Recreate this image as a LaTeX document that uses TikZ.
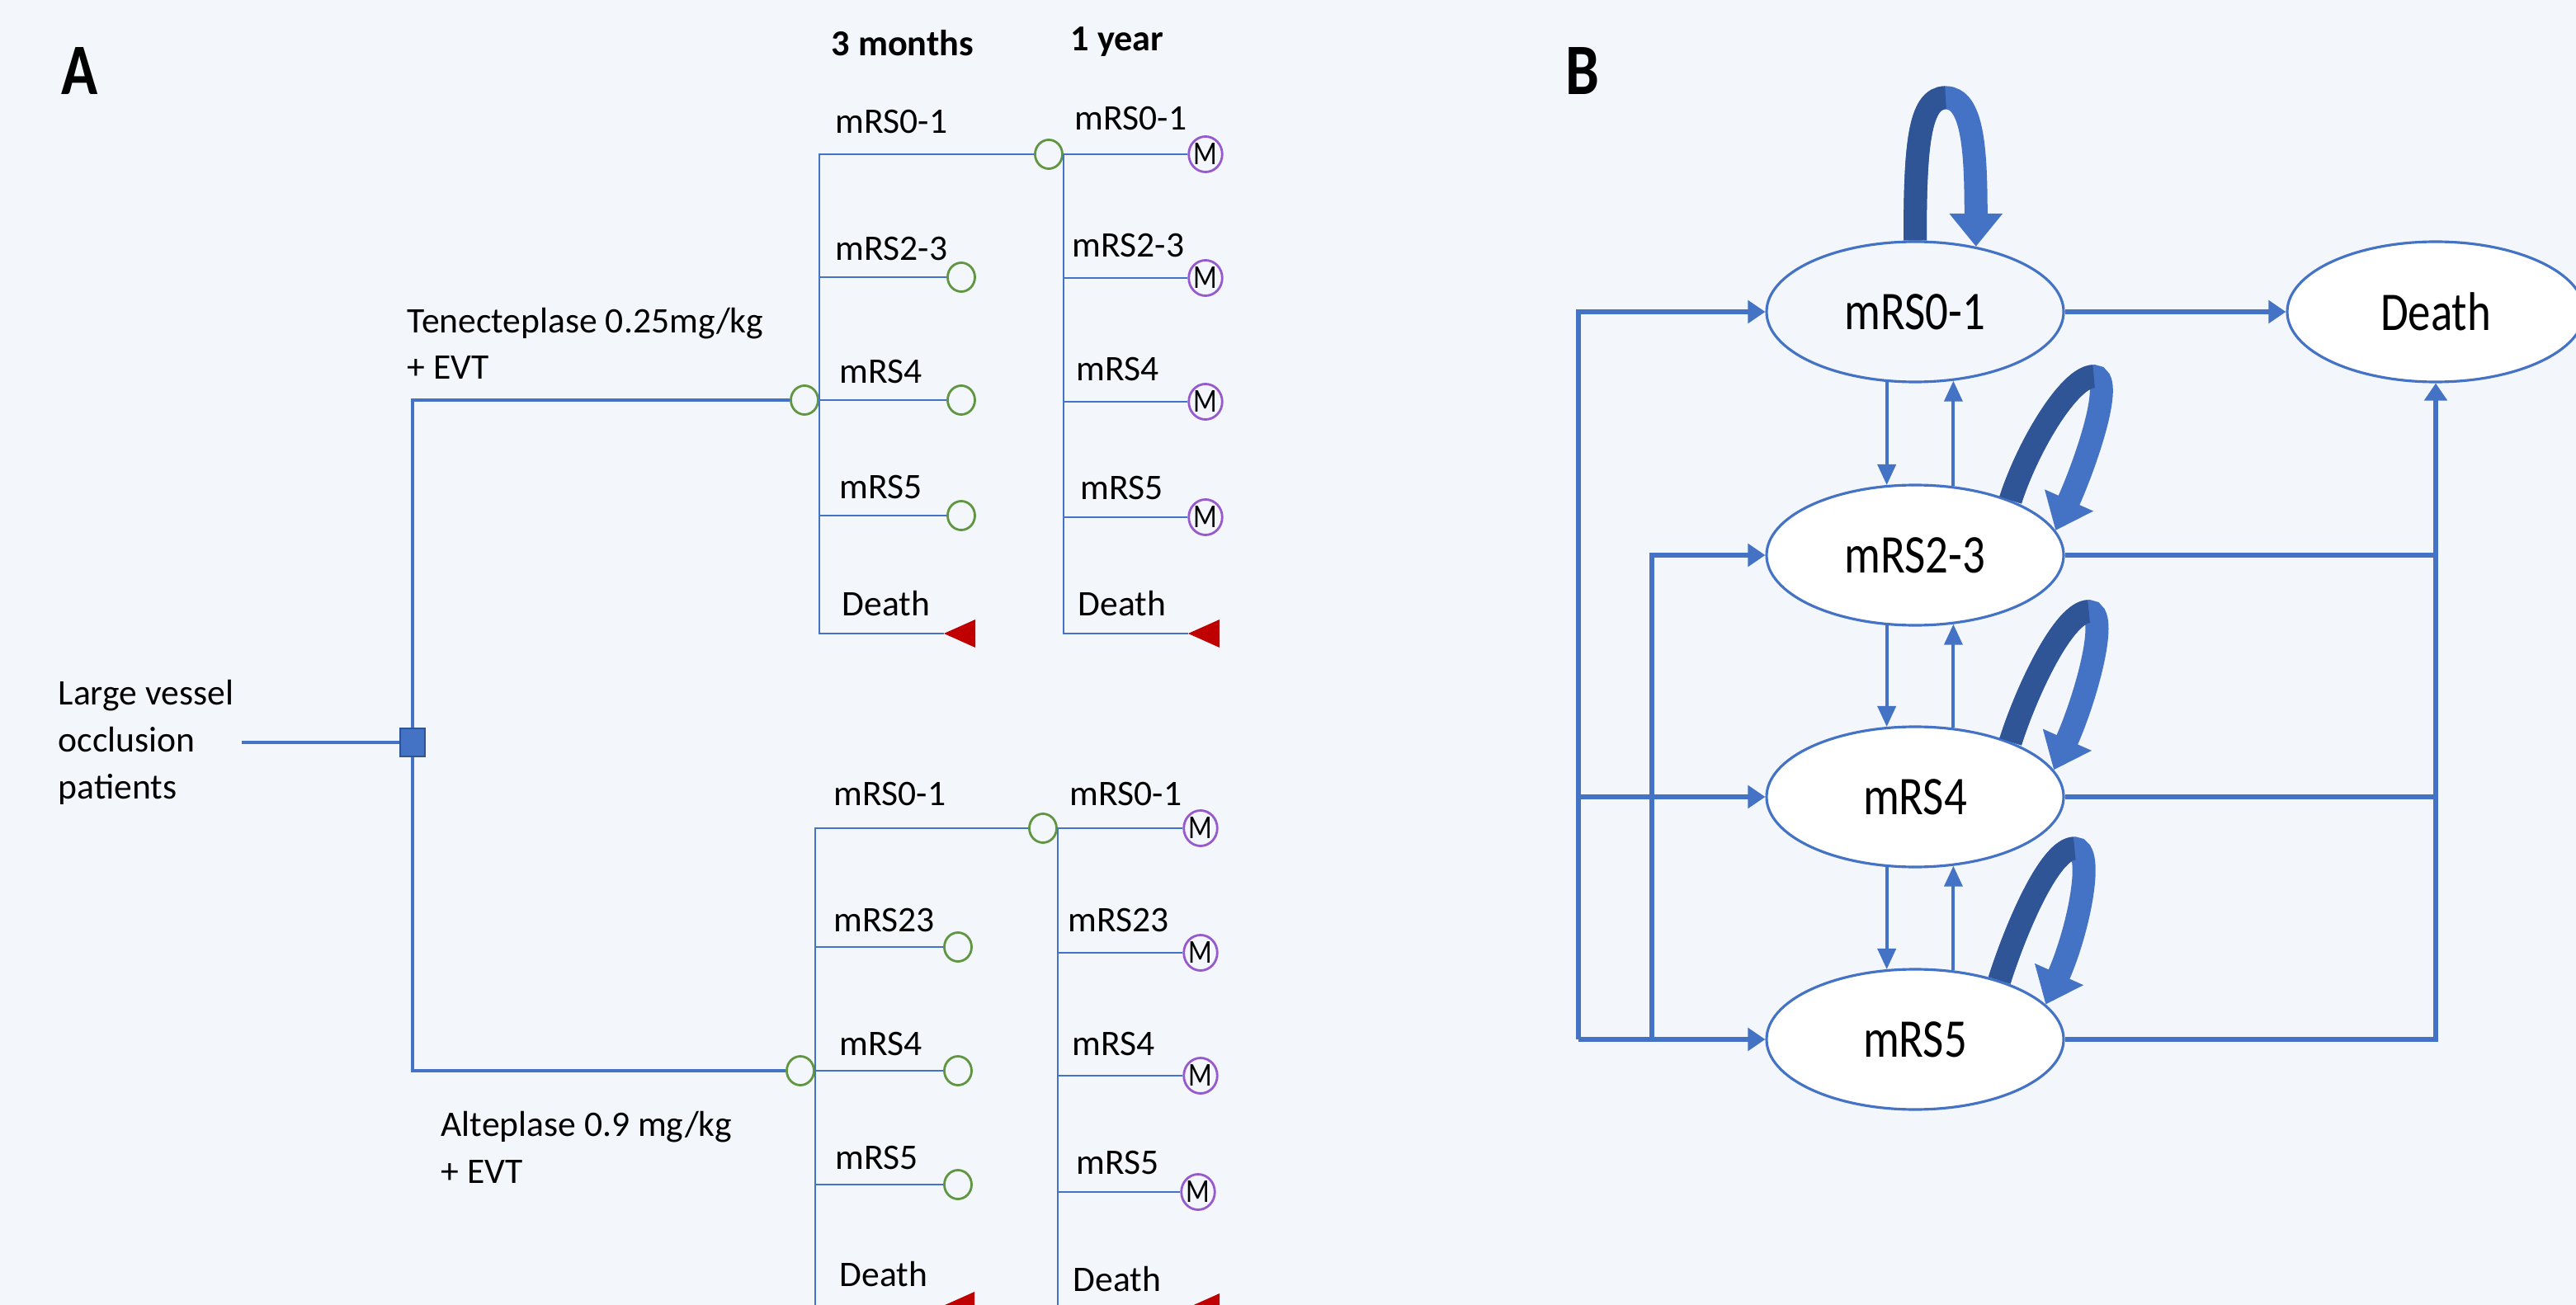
\documentclass[tikz,border=0pt]{standalone}
\usepackage{fontspec}
\setmainfont{Carlito}
\newfontfamily\statefont[FakeStretch=0.83]{Carlito}
\usetikzlibrary{shapes.geometric,arrows.meta}

\definecolor{bgcol}{RGB}{243,246,250}
\definecolor{lineblue}{RGB}{68,114,196}
\definecolor{loopdark}{RGB}{47,85,151}
\definecolor{chgreen}{RGB}{96,150,66}
\definecolor{mpurple}{RGB}{150,90,205}
\definecolor{dthred}{RGB}{192,0,0}

\tikzset{
  lbl/.style={font=\fontsize{12.4}{16.2}\selectfont, inner sep=0, anchor=base west},
  hdr/.style={lbl, font=\fontsize{12.6}{15}\selectfont\bfseries},
  panel/.style={inner sep=0, anchor=base west, font=\statefont\fontsize{25}{30}\selectfont\bfseries},
  branch/.style={draw=lineblue, line width=0.7pt},
  mainln/.style={draw=lineblue, line width=1.1pt},
  chance/.style={ellipse, draw=chgreen, line width=0.8pt, minimum width=0.33cm, minimum height=0.35cm, inner sep=0},
  markov/.style={ellipse, draw=mpurple, line width=0.8pt, minimum width=0.39cm, minimum height=0.43cm, inner sep=0, font=\statefont\fontsize{11.5}{12}\selectfont},
  decsq/.style={rectangle, fill=lineblue, draw=loopdark, line width=0.5pt, minimum width=0.30cm, minimum height=0.34cm, inner sep=0},
  mstate/.style={ellipse, draw=lineblue, line width=0.9pt, fill=white, minimum width=3.6cm, minimum height=1.7cm, inner sep=0, font=\statefont\fontsize{18.8}{22}\selectfont},
  flow/.style={draw=lineblue, line width=1.6pt},
  flowarr/.style={flow, -{Triangle[length=0.21cm, width=0.27cm]}},
  updown/.style={draw=lineblue, line width=1.1pt, -{Triangle[length=0.25cm, width=0.22cm]}},
  loopfront/.style={draw=lineblue, line width=0.28cm, -{Triangle[length=0.4cm, width=0.62cm]}},
  loopback/.style={draw=loopdark, line width=0.28cm},
}

\begin{document}
\begin{tikzpicture}
  \useasboundingbox (0,0) rectangle (31.22,-15.82);
  \fill[bgcol] (0,0) rectangle (31.22,-15.82);

  % Panel A: decision tree
  \node[panel] (pa) at (0.74,-1.15) {A};
  \node[hdr] (h3m) at (10.07,-0.68) {3 months};
  \node[hdr] (h1y) at (12.97,-0.62) {1 year};

  % Root and decision node
  \node[lbl, align=left, anchor=west] (lvo) at (0.70,-9.00) {Large vessel\\occlusion\\patients};
  \node[decsq] (dec) at (5.00,-9.00) {};
  \draw[mainln, shorten <=0.09cm] (lvo.east |- dec) -- (dec);

  % Treatment arms
  \node[chance] (c1) at (9.75,-4.85) {};
  \node[chance] (c2) at (9.70,-12.98) {};
  \draw[mainln] (dec) |- (c1);
  \draw[mainln] (dec) |- (c2);
  \node[lbl, align=left] (arm1) at (4.93,-4.60) {Tenecteplase 0.25mg/kg\\+ EVT};
  \node[lbl, align=left] (arm2) at (5.34,-14.34) {Alteplase 0.9 mg/kg\\+ EVT};

  % 3 months, upper arm
  \node[chance] (c1a) at (12.71,-1.87) {};
  \node[chance] (t1b) at (11.65,-3.36) {};
  \node[chance] (t1c) at (11.65,-4.85) {};
  \node[chance] (t1d) at (11.65,-6.25) {};
  \coordinate (d1) at (11.44,-7.68);
  \fill[dthred] (d1) -- ++(0.38,0.17) -- ++(0,-0.34) -- cycle;
  \foreach \t in {c1a,t1b,t1c,t1d}
    \draw[branch] (c1.east) |- (\t.west);
  \draw[branch] (c1.east) |- (d1);
  \node[lbl] (u3a) at (10.12,-1.62) {mRS0-1};
  \node[lbl] (u3b) at (10.12,-3.16) {mRS2-3};
  \node[lbl] (u3c) at (10.17,-4.65) {mRS4};
  \node[lbl] (u3d) at (10.17,-6.04) {mRS5};
  \node[lbl] (u3e) at (10.20,-7.46) {Death};

  % 1 year, upper arm
  \node[markov] (m1a) at (14.61,-1.87) {M};
  \node[markov] (m1b) at (14.61,-3.37) {M};
  \node[markov] (m1c) at (14.61,-4.87) {M};
  \node[markov] (m1d) at (14.61,-6.27) {M};
  \coordinate (d1y) at (14.40,-7.68);
  \fill[dthred] (d1y) -- ++(0.38,0.17) -- ++(0,-0.34) -- cycle;
  \foreach \t in {m1a,m1b,m1c,m1d}
    \draw[branch] (c1a.east) |- (\t.west);
  \draw[branch] (c1a.east) |- (d1y);
  \node[lbl] (u1a) at (13.02,-1.58) {mRS0-1};
  \node[lbl] (u1b) at (12.99,-3.12) {mRS2-3};
  \node[lbl] (u1c) at (13.04,-4.61) {mRS4};
  \node[lbl] (u1d) at (13.09,-6.05) {mRS5};
  \node[lbl] (u1e) at (13.06,-7.46) {Death};

  % 3 months, lower arm
  \node[chance] (c2a) at (12.64,-10.04) {};
  \node[chance] (t2b) at (11.61,-11.48) {};
  \node[chance] (t2c) at (11.61,-12.98) {};
  \node[chance] (t2d) at (11.61,-14.36) {};
  \coordinate (d2) at (11.43,-15.83);
  \fill[dthred] (d2) -- ++(0.38,0.17) -- ++(0,-0.34) -- cycle;
  \foreach \t in {c2a,t2b,t2c,t2d}
    \draw[branch] (c2.east) |- (\t.west);
  \draw[branch] (c2.east) |- (d2);
  \node[lbl] (l3a) at (10.10,-9.76) {mRS0-1};
  \node[lbl] (l3b) at (10.10,-11.29) {mRS23};
  \node[lbl] (l3c) at (10.17,-12.79) {mRS4};
  \node[lbl] (l3d) at (10.12,-14.17) {mRS5};
  \node[lbl] (l3e) at (10.17,-15.59) {Death};

  % 1 year, lower arm
  \node[markov] (m2a) at (14.55,-10.04) {M};
  \node[markov] (m2b) at (14.55,-11.55) {M};
  \node[markov] (m2c) at (14.55,-13.04) {M};
  \node[markov] (m2d) at (14.52,-14.45) {M};
  \coordinate (d2y) at (14.40,-15.85);
  \fill[dthred] (d2y) -- ++(0.38,0.17) -- ++(0,-0.34) -- cycle;
  \foreach \t in {m2a,m2b,m2c,m2d}
    \draw[branch] (c2a.east) |- (\t.west);
  \draw[branch] (c2a.east) |- (d2y);
  \node[lbl] (l1a) at (12.96,-9.76) {mRS0-1};
  \node[lbl] (l1b) at (12.94,-11.29) {mRS23};
  \node[lbl] (l1c) at (12.99,-12.79) {mRS4};
  \node[lbl] (l1d) at (13.04,-14.23) {mRS5};
  \node[lbl] (l1e) at (13.00,-15.65) {Death};

  % Panel B: Markov states
  \node[panel] (pb) at (18.97,-1.15) {B};
  \node[mstate, fill=bgcol] (m01) at (23.21,-3.78) {mRS0-1};
  \node[mstate] (m23) at (23.21,-6.73) {mRS2-3};
  \node[mstate] (m4) at (23.21,-9.66) {mRS4};
  \node[mstate] (m5) at (23.21,-12.60) {mRS5};
  \node[mstate] (dth) at (29.52,-3.78) {Death};

  \coordinate (lv) at (19.13,-3.78);
  \coordinate (lv2) at (20.02,-6.73);

  % Entry lines on the left
  \draw[flowarr] (lv |- m5) |- (m01.west);
  \draw[flowarr] (lv |- m4) -- (m4.west);
  \draw[flowarr] (lv |- m5) -- (m5.west);
  \draw[flowarr] (lv2 |- m5) |- (m23.west);

  % Exits to death on the right
  \draw[flowarr] (m01.east) -- (dth.west);
  \draw[flowarr] (m5.east) -| (dth.south);
  \draw[flow] (m23.east) -- (m23.east -| dth);
  \draw[flow] (m4.east) -- (m4.east -| dth);

  % Moves between neighbouring states
  \foreach \a/\b in {m01/m23, m23/m4, m4/m5} {
    \draw[updown] (\a.-112) -- (\b.112);
    \draw[updown] (\b.61) -- (\a.-61);
  }

  % Staying in the same state
  \draw[loopfront] (m01.north) .. controls +(0,1.15) and +(-0.32,0) .. ++(0.37,1.73)
    .. controls +(0.33,0) and +(0,1.17) .. (m01.47);
  \draw[loopback] (m01.north) .. controls +(0,1.15) and +(-0.32,0) .. ++(0.37,1.73);
  \foreach \n/\s/\e/\ax/\ay in {m23/30/10/1.01/1.50, m4/30/11/0.95/1.58, m5/35/15/0.91/1.60} {
    \draw[loopfront] (\n.\s) .. controls +(0.2,0.63) and +(-0.3,0) .. ++(\ax,\ay)
      .. controls +(0.25,0) and +(0.4,0.9) .. (\n.\e);
    \draw[loopback] (\n.\s) .. controls +(0.2,0.63) and +(-0.3,0) .. ++(\ax,\ay);
  }
\end{tikzpicture}
\end{document}
